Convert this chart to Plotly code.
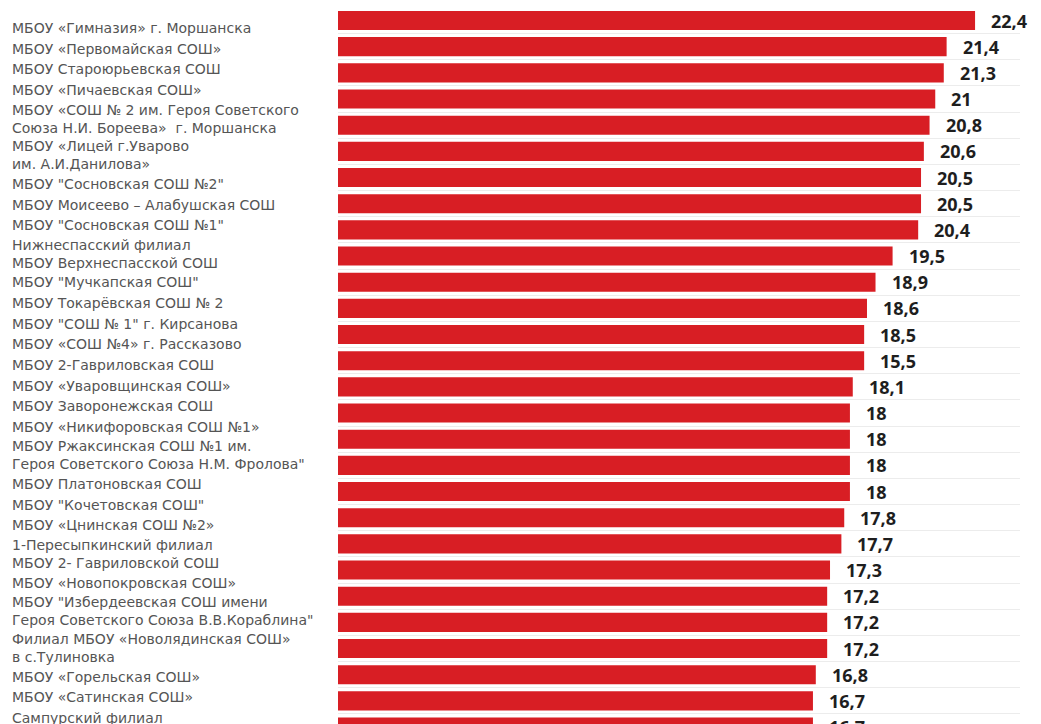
import plotly.graph_objects as go

# School names (label column, top to bottom)
schools = [
    "МБОУ «Гимназия» г. Моршанска",
    "МБОУ «Первомайская СОШ»",
    "МБОУ Староюрьевская СОШ",
    "МБОУ «Пичаевская СОШ»",
    "МБОУ «СОШ № 2 им. Героя Советского<br>Союза Н.И. Бореева»  г. Моршанска",
    "МБОУ «Лицей г.Уварово<br>им. А.И.Данилова»",
    "МБОУ \"Сосновская СОШ №2\"",
    "МБОУ Моисеево – Алабушская СОШ",
    "МБОУ \"Сосновская СОШ №1\"",
    "Нижнеспасский филиал<br>МБОУ Верхнеспасской СОШ",
    "МБОУ \"Мучкапская СОШ\"",
    "МБОУ Токарёвская СОШ № 2",
    "МБОУ \"СОШ № 1\" г. Кирсанова",
    "МБОУ «СОШ №4» г. Рассказово",
    "МБОУ 2-Гавриловская СОШ",
    "МБОУ «Уваровщинская СОШ»",
    "МБОУ Заворонежская СОШ",
    "МБОУ «Никифоровская СОШ №1»",
    "МБОУ Ржаксинская СОШ №1 им.<br>Героя Советского Союза Н.М. Фролова\"",
    "МБОУ Платоновская СОШ",
    "МБОУ \"Кочетовская СОШ\"",
    "МБОУ «Цнинская СОШ №2»",
    "1-Пересыпкинский филиал<br>МБОУ 2- Гавриловской СОШ",
    "МБОУ «Новопокровская СОШ»",
    "МБОУ \"Избердеевская СОШ имени<br>Героя Советского Союза В.В.Кораблина\"",
    "Филиал МБОУ «Новолядинская СОШ»<br>в с.Тулиновка",
    "МБОУ «Горельская СОШ»",
    "МБОУ «Сатинская СОШ»",
    "Сампурский филиал",
]

# Bar lengths as drawn (top to bottom)
values = [22.4, 21.4, 21.3, 21.0, 20.8, 20.6, 20.5, 20.5, 20.4, 19.5,
          18.9, 18.6, 18.5, 18.5, 18.1, 18.0, 18.0, 18.0, 18.0, 17.8,
          17.7, 17.3, 17.2, 17.2, 17.2, 16.8, 16.7, 16.7]

# Value labels as printed next to the bars
value_labels = ["22,4", "21,4", "21,3", "21", "20,8", "20,6", "20,5", "20,5", "20,4", "19,5",
                "18,9", "18,6", "18,5", "15,5", "18,1", "18", "18", "18", "18", "17,8",
                "17,7", "17,3", "17,2", "17,2", "17,2", "16,8", "16,7", "16,7"]

bar_cats = [f"b{i}" for i in range(len(values))]

W, H = 1041, 724

# label column layout: each label takes a slot that grows with its line count
w_extra = 0.78
slots = [1 + w_extra * n.count("<br>") for n in schools]
label_pos = []
acc = 0.0
for i, s in enumerate(slots):
    if i > 0:
        acc += (slots[i - 1] + s) / 2
    label_pos.append(acc)
top_px, last_px = 20, 710
unit = (last_px - top_px) / label_pos[-1]
y2_range = [(H - top_px) / unit, -top_px / unit]

fig = go.Figure()

fig.add_trace(go.Bar(
    x=values, y=bar_cats, orientation="h",
    marker=dict(color="#d81e24", line=dict(width=0)),
    hoverinfo="skip", showlegend=False,
))

annotations = []
for name, p in zip(schools, label_pos):
    annotations.append(dict(
        xref="paper", x=2 / W, xanchor="left",
        yref="y2", y=p, yanchor="middle",
        text=name, showarrow=False, align="left",
        font=dict(family="DejaVu Sans", size=14, color="#555555"),
    ))
for cat, v, t in zip(bar_cats, values, value_labels):
    annotations.append(dict(
        xref="x", x=v, xanchor="left", xshift=14,
        yref="y", y=cat, yanchor="middle",
        text=t, showarrow=False,
        font=dict(family="Open Sans", size=18, color="#1e1e1e", weight="bold"),
    ))

fig.update_layout(
    width=W, height=H,
    margin=dict(l=0, r=0, t=0, b=0),
    paper_bgcolor="white", plot_bgcolor="white",
    bargap=0.27,
    xaxis=dict(domain=[330 / W, 1012 / W], range=[0, 23.98],
               showgrid=False, zeroline=False, showticklabels=False, ticks=""),
    yaxis=dict(type="category", range=[27.19, -0.478], tickson="boundaries",
               showgrid=True, gridcolor="#ececec", gridwidth=1,
               showticklabels=False, ticks="", zeroline=False),
    yaxis2=dict(type="linear", overlaying="y", range=y2_range,
                showgrid=False, showticklabels=False, ticks="", zeroline=False),
    annotations=annotations,
)

fig.write_html("out.html")
